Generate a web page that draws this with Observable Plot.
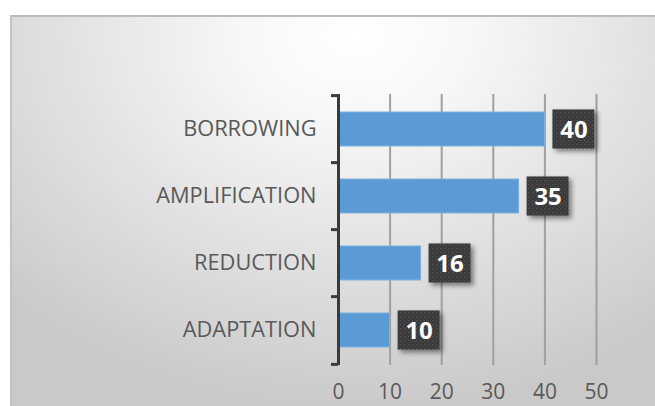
<!DOCTYPE html>
<html>
<head>
<meta charset="utf-8">
<script src="https://cdn.jsdelivr.net/npm/d3@7"></script>
<script src="https://cdn.jsdelivr.net/npm/@observablehq/plot@0.6"></script>
<style>
  html, body { margin: 0; padding: 0; background: #ffffff; width: 655px; height: 406px; overflow: hidden; }
  #frame {
    position: absolute; left: 10px; top: 15px; width: 660px; height: 400px;
    border-top: 2px solid #bdbdbd; border-left: 2px solid #c2c2c2;
    background: radial-gradient(ellipse 75% 95% at 52% 4%, #ffffff 0%, #f6f6f6 25%, #e4e4e4 55%, #c9c9c9 100%);
  }
  #chart { position: absolute; left: 0; top: 0; }
</style>
</head>
<body>
<div id="frame"></div>
<div id="chart"></div>
<script>
const categories = ["BORROWING", "AMPLIFICATION", "REDUCTION", "ADAPTATION"];
const values = [40, 35, 16, 10];
const xTicks = [0, 10, 20, 30, 40, 50];

const data = categories.map((c, i) => ({category: c, value: values[i]}));

const W = 655, H = 406;
const mTop = 94, mBottom = 41, mLeft = 338, mRight = 59;
const step = (H - mTop - mBottom) / categories.length;
const pxPerUnit = (W - mLeft - mRight) / 50;
const bandwidth = step * 0.5;
const boxInset = (bandwidth - 39) / 2;

const plot = Plot.plot({
  width: W,
  height: H,
  marginTop: mTop,
  marginBottom: mBottom,
  marginLeft: mLeft,
  marginRight: mRight,
  style: {background: "transparent", fontFamily: "'Open Sans', sans-serif", overflow: "visible"},
  x: {domain: [0, 50], ticks: xTicks},
  y: {domain: categories, paddingInner: 0.5, paddingOuter: 0.25},
  marks: [
    Plot.ruleX(xTicks.filter(d => d > 0), {stroke: "#a0a0a0", strokeWidth: 2, strokeOpacity: 1}),
    Plot.axisX({ticks: xTicks, tickSize: 0, tickPadding: 19, fontSize: 21, fill: "#595959", label: null}),
    Plot.axisY({tickSize: 0, tickPadding: 22, fontSize: 21.8, fill: "#595959", label: null}),
    Plot.barX(data, {x: "value", y: "category", fill: "#5b9bd5", stroke: "#7fb1de", strokeWidth: 1}),
    // y axis line and ticks at band boundaries
    Plot.ruleX([0], {stroke: "#3a3a3a", strokeWidth: 3}),
    Plot.ruleY(categories, {y: d => d, x1: -7 / pxPerUnit, x2: 0, dy: -step / 2, stroke: "#3a3a3a", strokeWidth: 3}),
    Plot.ruleY([categories[categories.length - 1]], {y: d => d, x1: -7 / pxPerUnit, x2: 0, dy: step / 2, stroke: "#3a3a3a", strokeWidth: 3}),
    // label boxes
    Plot.barX(data, {
      x1: d => d.value + 8 / pxPerUnit,
      x2: d => d.value + 50 / pxPerUnit,
      y: "category",
      insetTop: boxInset, insetBottom: boxInset,
      fill: "url(#dotpat)",
      className: "labelbox"
    }),
    Plot.text(data, {
      x: "value", y: "category", text: d => String(d.value),
      dx: 29, dy: 1, fill: "#ffffff", fontSize: 24, fontWeight: "bold", fontFamily: "'Open Sans', sans-serif"
    })
  ]
});

const svg = d3.select(plot);
const defs = svg.insert("defs", ":first-child");
const pat = defs.append("pattern").attr("id", "dotpat").attr("patternUnits", "userSpaceOnUse")
  .attr("width", 4).attr("height", 4);
pat.append("rect").attr("width", 4).attr("height", 4).attr("fill", "#3b3b3b");
pat.append("rect").attr("x", 0).attr("y", 0).attr("width", 1).attr("height", 1).attr("fill", "#5a5a5a");
pat.append("rect").attr("x", 2).attr("y", 2).attr("width", 1).attr("height", 1).attr("fill", "#4e4e4e");
const f = defs.append("filter").attr("id", "shadow").attr("x", "-20%").attr("y", "-20%").attr("width", "160%").attr("height", "160%");
f.append("feDropShadow").attr("dx", 3).attr("dy", 3).attr("stdDeviation", 2.5).attr("flood-color", "#000").attr("flood-opacity", 0.45);
svg.selectAll(".labelbox rect").attr("filter", "url(#shadow)");

document.getElementById("chart").appendChild(plot);
</script>
</body>
</html>
